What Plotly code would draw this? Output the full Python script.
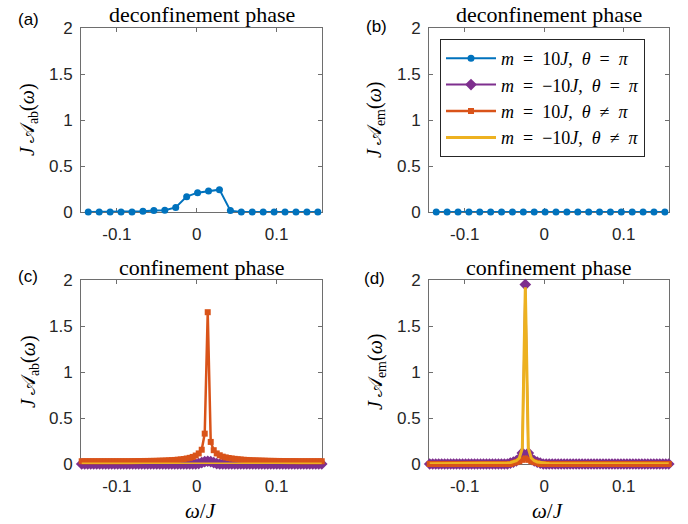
import numpy as np
import plotly.graph_objects as go

# ---------------- data ----------------
# coarse grid (deconfinement phase)
omega_coarse = np.linspace(-0.1359, 0.1518, 22)
blue_a = [0, 0, 0, 0, 0, 0.007, 0.015, 0.02, 0.05, 0.167, 0.21, 0.228, 0.243,
          0.015, 0, 0, 0, 0, 0, 0, 0, 0]
blue_b = [0] * 22

# fine grid (confinement phase)
omega_fine = np.linspace(-0.14412, 0.15668, 81)
orange_c = ([0.03] * 17 +
            [0.031, 0.031, 0.032, 0.032, 0.033] +
            [0.033, 0.034, 0.034, 0.035, 0.036, 0.037] +
            [0.038, 0.04, 0.042, 0.044] +
            [0.047, 0.05, 0.054, 0.06] +
            [0.067, 0.077, 0.092] +
            [0.115, 0.155, 0.33] +
            [1.65] +
            [0.24, 0.15, 0.115] +
            [0.095, 0.08, 0.072] +
            [0.065, 0.06, 0.056, 0.052] +
            [0.049, 0.046, 0.044, 0.042] +
            [0.04, 0.039, 0.038, 0.037, 0.036, 0.035] +
            [0.034, 0.034, 0.033, 0.033, 0.032] +
            [0.032, 0.031, 0.031, 0.031, 0.03, 0.03, 0.03, 0.03, 0.03, 0.03, 0.03, 0.03, 0.03])
purple_c = [0] * 39 + [0.005, 0.015, 0.025, 0.03, 0.025, 0.015, 0.005] + [0] * 35
yellow_c = [0] * 81

purple_d = [0] * 27 + [0.01, 0.02, 0.035, 0.06, 0.12, 1.95, 0.12, 0.06, 0.035, 0.02, 0.01] + [0] * 43
yellow_d = ([0.003] * 22 + [0.006, 0.006, 0.006, 0.008, 0.011, 0.015, 0.022, 0.035, 0.065, 0.17,
                            1.92,
                            0.17, 0.065, 0.035, 0.022, 0.015, 0.011, 0.008, 0.006, 0.006, 0.006]
            + [0.003] * 38)
orange_d = [0] * 28 + [0.012, 0.02, 0.03, 0.045, 0.06, 0.045, 0.03, 0.02, 0.012] + [0] * 44

x_ticks = [-0.1, 0, 0.1]
x_ticktext = ["-0.1", "0", "0.1"]
y_ticks = [0, 0.5, 1, 1.5, 2]
y_ticktext = ["0", "0.5", "1", "1.5", "2"]

S = "\u00a0\u00a0"
labels = {
    "blue": f"<i>m</i>{S}={S}10<i>J</i>,{S}<i>θ</i>{S}={S}<i>π</i>",
    "purple": f"<i>m</i>{S}={S}−10<i>J</i>,{S}<i>θ</i>{S}={S}<i>π</i>",
    "orange": f"<i>m</i>{S}={S}10<i>J</i>,{S}<i>θ</i>{S}≠{S}<i>π</i>",
    "yellow": f"<i>m</i>{S}={S}−10<i>J</i>,{S}<i>θ</i>{S}≠{S}<i>π</i>",
}

BLUE = "#0072BD"
ORANGE = "#D95319"
YELLOW = "#EDB120"
PURPLE = "#7E2F8E"

W, H = 688, 524
SERIF = "Liberation Serif, Times New Roman, serif"
SANS = "Liberation Sans, Arial, sans-serif"

fig = go.Figure()


def add(x, y, color, name, xa, ya, symbol=None, msize=0, width=2, show=False, rank=1):
    mode = "lines+markers" if symbol else "lines"
    fig.add_trace(go.Scatter(
        x=x, y=y, mode=mode, name=name, xaxis=xa, yaxis=ya,
        line=dict(color=color, width=width),
        marker=dict(symbol=symbol or "circle", size=msize, color=color,
                    line=dict(width=0)),
        showlegend=show, legendrank=rank, cliponaxis=False,
    ))


# (a)
add(omega_coarse, blue_a, BLUE, labels["blue"], "x", "y", "circle", 7, 2)
# (b)
add(omega_coarse, blue_b, BLUE, labels["blue"], "x2", "y2", "circle", 7, 2, show=True, rank=1)
# (c)
add(omega_fine, purple_c, PURPLE, labels["purple"], "x3", "y3", "diamond", 9, 2)
add(omega_fine, orange_c, ORANGE, labels["orange"], "x3", "y3", "square", 6, 2.5)
add(omega_fine, yellow_c, YELLOW, labels["yellow"], "x3", "y3", None, 0, 3)
# (d)
add(omega_fine, purple_d, PURPLE, labels["purple"], "x4", "y4", "diamond", 9, 2, show=True, rank=2)
add(omega_fine, orange_d, ORANGE, labels["orange"], "x4", "y4", "square", 6, 2.5, show=True, rank=3)
add(omega_fine, yellow_d, YELLOW, labels["yellow"], "x4", "y4", None, 0, 3, show=True, rank=4)

# axes geometry (pixels)
cols = [(81, 322), (429, 669)]
rows = [(28, 212), (280, 464)]

axis_common = dict(
    showline=True, linecolor="#6e6e6e", linewidth=1, mirror="ticks",
    ticks="inside", ticklen=4, tickcolor="#6e6e6e", tickwidth=1,
    showgrid=False, zeroline=False, layer="below traces", automargin=False,
    tickfont=dict(family=SANS, size=17, color="#262626"),
    fixedrange=True,
)

layout_axes = {}
for i, (r, c) in enumerate([(0, 0), (0, 1), (1, 0), (1, 1)]):
    n = "" if i == 0 else str(i + 1)
    x0, x1 = cols[c]
    y0, y1 = rows[r]
    layout_axes["xaxis" + n] = dict(
        axis_common, domain=[x0 / W, x1 / W], range=[-0.145, 0.157],
        tickvals=x_ticks, ticktext=x_ticktext, anchor="y" + n, ticklabelstandoff=7,
    )
    layout_axes["yaxis" + n] = dict(
        axis_common, domain=[1 - y1 / H, 1 - y0 / H], range=[0, 2],
        tickvals=y_ticks, ticktext=y_ticktext, anchor="x" + n, ticklabelstandoff=4,
    )

fig.update_layout(**layout_axes)

ann = []


def txt(x, y, s, font, size, angle=0):
    ann.append(dict(x=x / W, y=1 - y / H, xref="paper", yref="paper", text=s,
                    showarrow=False, xanchor="center", yanchor="middle",
                    textangle=angle, font=dict(family=font, size=size, color="black")))


# titles
txt(201.5, 15, "deconfinement phase", SERIF, 22)
txt(549, 15, "deconfinement phase", SERIF, 22)
txt(201.5, 267, "confinement phase", SERIF, 22)
txt(549, 267, "confinement phase", SERIF, 22)
# panel labels
txt(28, 20, "(a)", SANS, 17)
txt(376, 26, "(b)", SANS, 17)
txt(28, 276, "(c)", SANS, 17)
txt(374, 278, "(d)", SANS, 17)
# y titles
ya_ab = "<i>J</i>\u2009𝒜<sub>ab</sub>(<i>ω</i>)"
ya_em = "<i>J</i>\u2009𝒜<sub>em</sub>(<i>ω</i>)"
txt(29, 120, ya_ab, SERIF, 20, -90)
txt(376, 120, ya_em, SERIF, 20, -90)
txt(29, 372, ya_ab, SERIF, 20, -90)
txt(376, 372, ya_em, SERIF, 20, -90)
# x titles
txt(201, 511, "<i>ω</i>/<i>J</i>", SERIF, 21)
txt(548, 511, "<i>ω</i>/<i>J</i>", SERIF, 21)

fig.update_layout(
    width=W, height=H,
    margin=dict(l=0, r=0, t=0, b=0, autoexpand=False),
    paper_bgcolor="white", plot_bgcolor="white",
    annotations=ann,
    legend=dict(
        x=440 / W, y=1 - 39 / H, xanchor="left", yanchor="top",
        bgcolor="white", bordercolor="#262626", borderwidth=1,
        font=dict(family=SERIF, size=18, color="black"),
        tracegroupgap=0, itemwidth=50,
    ),
)

fig.write_html(
    "out.html",
    config={"displayModeBar": False, "staticPlot": True},
    post_script="document.body.style.margin='0px';document.body.style.overflow='hidden';",
)
